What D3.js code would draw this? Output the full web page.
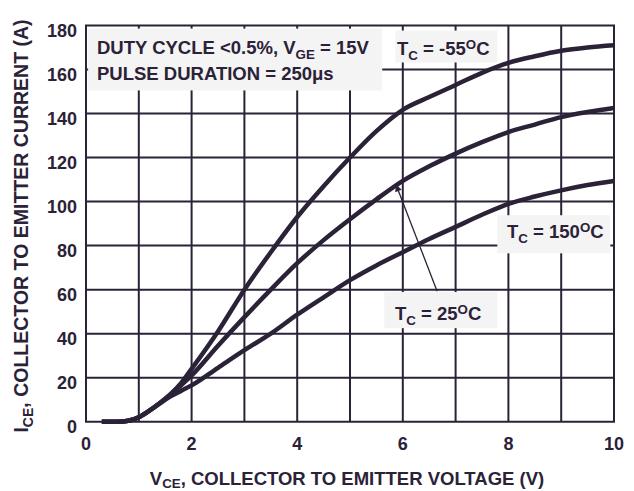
<html>
<head>
<script src="https://cdn.jsdelivr.net/npm/d3@7"></script>
<style>
  body { margin: 0; background: #fff; }
  svg text { font-family: "Liberation Sans", Arial, sans-serif; font-weight: bold; fill: #2b2238; }
</style>
</head>
<body>
<script>
// collector-emitter voltage (V) at which the curves were read
var vce = [0.3, 0.6, 0.8, 1.0, 1.2, 1.4, 1.6, 1.8, 2.0, 2.5, 3.0, 3.5, 4.0, 4.5,
           5.0, 5.5, 6.0, 6.5, 7.0, 7.5, 8.0, 8.5, 9.0, 9.5, 10];
// collector current (A) for each case temperature
var icM55 = [0, 0, 0.4, 2, 5, 8.5, 12.5, 17.5, 24, 41, 60, 77, 93, 107,
             120, 132, 141.7, 147.5, 153, 158.5, 163, 166, 168.5, 170, 171];
var ic25  = [0, 0, 0.4, 2, 5, 8.5, 12.3, 16.5, 21, 34.5, 47.5, 60, 72, 82.5,
             92, 101, 109.4, 116, 121.8, 127, 131.6, 135, 138.4, 140.7, 142.5];
var ic150 = [0, 0, 0.4, 2, 5, 8.3, 11.5, 14, 16.5, 24.5, 32.5, 40, 48.6, 56.5,
             64.3, 71, 77, 83, 88.5, 94, 99, 102.3, 105.1, 107.5, 109.4];
var xTicks = [0, 2, 4, 6, 8, 10];
var yTicks = [0, 20, 40, 60, 80, 100, 120, 140, 160, 180];
var xGrid = d3.range(0, 11, 1);
var yGrid = d3.range(0, 181, 20);

var width = 634, height = 491;
var margin = {left: 86, right: 20, top: 25.5, bottom: 69.3};
var ink = "#2b2238";
var boxFill = "#f4f4f4";

var svg = d3.select("body").append("svg")
  .attr("width", width)
  .attr("height", height);

var x = d3.scaleLinear().domain([0, 10]).range([margin.left, width - margin.right]);
var y = d3.scaleLinear().domain([0, 180]).range([height - margin.bottom, margin.top]);

// grid
svg.append("g").selectAll("line.v")
  .data(xGrid).enter().append("line")
  .attr("x1", function(d) { return x(d); }).attr("x2", function(d) { return x(d); })
  .attr("y1", y(0)).attr("y2", y(180))
  .attr("stroke", ink).attr("stroke-width", 2);
svg.append("g").selectAll("line.h")
  .data(yGrid).enter().append("line")
  .attr("x1", x(0) - 1).attr("x2", x(10) + 1)
  .attr("y1", function(d) { return y(d); }).attr("y2", function(d) { return y(d); })
  .attr("stroke", ink).attr("stroke-width", 2);

// tick labels
svg.append("g").selectAll("text")
  .data(yTicks).enter().append("text")
  .attr("x", 77).attr("y", function(d) { return y(d) + 11; })
  .attr("text-anchor", "end").style("font-size", "18px")
  .text(function(d) { return d; });
svg.append("g").selectAll("text")
  .data(xTicks).enter().append("text")
  .attr("x", function(d) { return x(d); }).attr("y", 450)
  .attr("text-anchor", "middle").style("font-size", "18px")
  .text(function(d) { return d; });

// label boxes (data coordinates: V left, V right, A top, A bottom)
var boxes = [[0.04, 5.61, 178.6, 150.5], [5.86, 7.79, 177.7, 163.2],
             [7.79, 9.93, 93.8, 76.5], [5.65, 7.79, 58.9, 42.5]];
svg.append("g").selectAll("rect")
  .data(boxes).enter().append("rect")
  .attr("x", function(d) { return x(d[0]); })
  .attr("y", function(d) { return y(d[2]); })
  .attr("width", function(d) { return x(d[1]) - x(d[0]); })
  .attr("height", function(d) { return y(d[3]) - y(d[2]); })
  .attr("fill", boxFill);

// curves
var line = d3.line()
  .x(function(d, i) { return x(vce[i]); })
  .y(function(d) { return y(d); })
  .curve(d3.curveMonotoneX);
[icM55, ic25, ic150].forEach(function(s) {
  svg.append("path").attr("d", line(s))
    .attr("fill", "none").attr("stroke", ink).attr("stroke-width", 4.5)
    .attr("stroke-linejoin", "round");
});

// arrow to the 25C curve
svg.append("defs").append("marker")
  .attr("id", "head").attr("viewBox", "0 0 10 10")
  .attr("refX", 10).attr("refY", 5)
  .attr("markerWidth", 12).attr("markerHeight", 7)
  .attr("markerUnits", "userSpaceOnUse")
  .attr("orient", "auto")
  .append("path").attr("d", "M0,0L10,5L0,10Z").attr("fill", ink);
svg.append("line")
  .attr("x1", x(6.65)).attr("y1", y(59.3))
  .attr("x2", x(5.87)).attr("y2", y(107.8))
  .attr("stroke", ink).attr("stroke-width", 1.3)
  .attr("marker-end", "url(#head)");

// rich text helper: parts of [text, "sub"|"sup"|null]
function rich(px, py, size, parts, subShift) {
  var t = svg.append("text").attr("x", px).attr("y", py).style("font-size", size + "px");
  var shift = 0;
  parts.forEach(function(p) {
    var s = p[1] === "sub" ? (subShift || 5) : p[1] === "sup" ? -6.5 : 0;
    t.append("tspan")
      .attr("dy", s - shift)
      .style("font-size", (p[1] ? size * 0.72 : size) + "px")
      .text(p[0]);
    shift = s;
  });
  return t;
}

rich(97, 54, 18.5, [["DUTY CYCLE <0.5%, V"], ["GE", "sub"], [" = 15V"]]);
rich(97, 79.5, 18.5, [["PULSE DURATION = 250\u03bcs"]]);
rich(397, 55, 18.5, [["T"], ["C", "sub"], [" = -55"], ["O", "sup"], ["C"]]);
rich(507, 238, 18.5, [["T"], ["C", "sub"], [" = 150"], ["O", "sup"], ["C"]]);
rich(395, 320, 18.5, [["T"], ["C", "sub"], [" = 25"], ["O", "sup"], ["C"]]);

// axis titles
rich(0, 0, 18.5, [["V"], ["CE", "sub"], [", COLLECTOR TO EMITTER VOLTAGE (V)"]], 3.5)
  .attr("x", 347).attr("y", 484.5).attr("text-anchor", "middle");
rich(0, 0, 19.5, [["I"], ["CE", "sub"], [", COLLECTOR TO EMITTER CURRENT (A)"]])
  .attr("text-anchor", "middle")
  .attr("transform", "translate(28,226) rotate(-90)");
</script>
</body>
</html>
